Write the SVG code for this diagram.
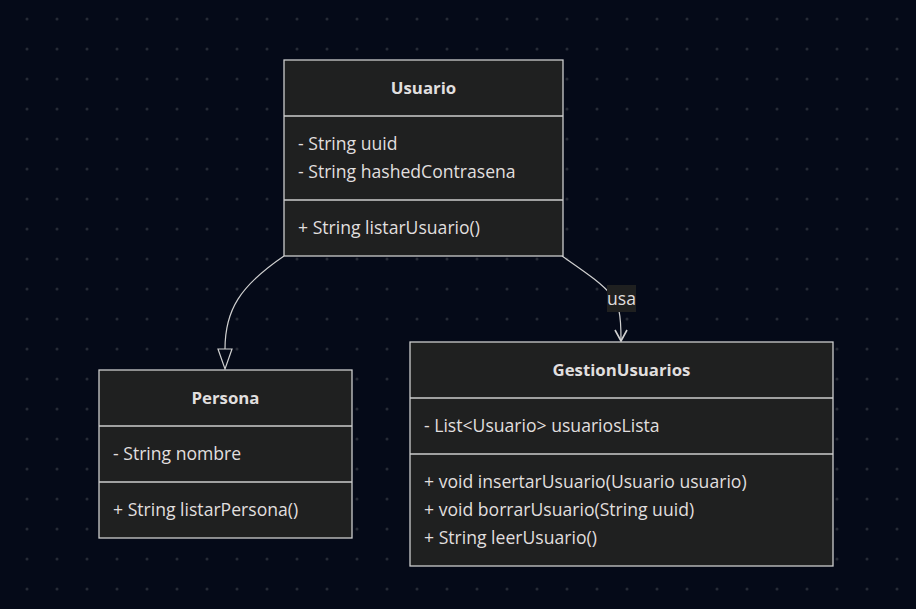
<svg xmlns="http://www.w3.org/2000/svg" width="916" height="609" viewBox="0 0 916 609">
<defs>
<pattern id="dots" x="0" y="0" width="30" height="30" patternUnits="userSpaceOnUse">
<circle cx="27" cy="19" r="1.5" fill="#262a35"/>
</pattern>
<style>
.box{fill:#1f2020;stroke:#cccccc;stroke-width:1.3}
.div{stroke:#cccccc;stroke-width:1.3}
.t{font-family:"Open Sans","Liberation Sans",sans-serif;font-size:17.6px;font-weight:500;fill:#e0dfdf;dominant-baseline:central}
.title{font-weight:bold;font-size:16.8px;text-anchor:middle}
.edge{fill:none;stroke:#d0d0d0;stroke-width:1.2}
</style>
</defs>
<rect width="916" height="609" fill="#050a18"/>
<rect width="916" height="609" fill="url(#dots)"/>
<g id="connectors">
<path class="edge" d="M284,256 C240,286 225,310 225,349"/>
<polygon points="218,349 232,349 225,369" fill="#050a18" stroke="#d0d0d0" stroke-width="1.2"/>
<path class="edge" d="M562,256 C585,272 603,284 612,296"/>
<path class="edge" d="M619,311 C621,320 621,330 621,340"/>
<path d="M615,330 L621,341 L627,330" fill="none" stroke="#d0d0d0" stroke-width="1.6"/>
<g id="label-usa">
<rect x="607" y="285" width="29" height="27" fill="#1f2020"/>
<text class="t" x="621.5" y="298" text-anchor="middle">usa</text>
</g>
</g>
<g id="Usuario">
<rect class="box" x="284" y="60" width="279" height="196"/>
<line class="div" x1="284" y1="116" x2="563" y2="116"/>
<line class="div" x1="284" y1="200" x2="563" y2="200"/>
<text class="t title" x="423.5" y="87">Usuario</text>
<text class="t" x="298" y="143">- String uuid</text>
<text class="t" x="298" y="171">- String hashedContrasena</text>
<text class="t" x="298" y="227">+ String listarUsuario()</text>
</g>
<g id="Persona">
<rect class="box" x="99" y="370" width="253" height="168"/>
<line class="div" x1="99" y1="426" x2="352" y2="426"/>
<line class="div" x1="99" y1="482" x2="352" y2="482"/>
<text class="t title" x="225.5" y="397">Persona</text>
<text class="t" x="113" y="453">- String nombre</text>
<text class="t" x="113" y="509">+ String listarPersona()</text>
</g>
<g id="GestionUsuarios">
<rect class="box" x="410" y="342" width="423" height="224"/>
<line class="div" x1="410" y1="398" x2="833" y2="398"/>
<line class="div" x1="410" y1="454" x2="833" y2="454"/>
<text class="t title" x="621.5" y="369">GestionUsuarios</text>
<text class="t" x="424" y="425">- List&lt;Usuario&gt; usuariosLista</text>
<text class="t" x="424" y="481">+ void insertarUsuario(Usuario usuario)</text>
<text class="t" x="424" y="509">+ void borrarUsuario(String uuid)</text>
<text class="t" x="424" y="537">+ String leerUsuario()</text>
</g>
</svg>
